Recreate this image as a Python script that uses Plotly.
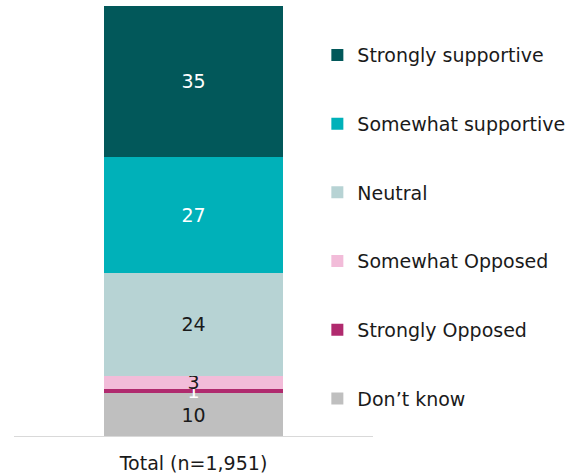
import plotly.graph_objects as go

categories = ["Total (n=1,951)"]
series_names = ["Don’t know", "Strongly Opposed", "Somewhat Opposed", "Neutral",
                "Somewhat supportive", "Strongly supportive"]
series_values = [[10], [1], [3], [24], [27], [35]]
series_colors = ["#BFBFBF", "#B02A6E", "#F2BCD9", "#B7D3D4", "#00B1B9", "#02585A"]
text_colors = ["#1a1a1a", "#ffffff", "#1a1a1a", "#1a1a1a", "#ffffff", "#ffffff"]

FONT = "DejaVu Sans, Verdana, sans-serif"
FS = 19

fig = go.Figure()
n = len(series_names)
for i, (name, vals) in enumerate(zip(series_names, series_values)):
    fig.add_trace(go.Bar(
        x=categories, y=vals, name=name,
        marker=dict(color=series_colors[i], line=dict(width=0)),
        width=0.5,
        text=[str(v) for v in vals],
        textposition="inside", insidetextanchor="middle",
        constraintext="none", textangle=0,
        textfont=dict(color=text_colors[i], size=FS, family=FONT),
        legendgroup=name,
        legendrank=n - i,
    ))

fig.update_layout(
    barmode="stack",
    width=576, height=474,
    margin=dict(l=14, r=203, t=6, b=38),
    paper_bgcolor="white", plot_bgcolor="white",
    font=dict(family=FONT, size=FS, color="#1a1a1a"),
    showlegend=True,
    legend=dict(
        x=0.845, xanchor="left", y=0.93, yanchor="top",
        traceorder="grouped", tracegroupgap=41,
        font=dict(size=FS, family=FONT, color="#1a1a1a"),
        bgcolor="rgba(0,0,0,0)",
        itemclick=False,
    ),
    xaxis=dict(showline=True, linecolor="#d9d9d9", linewidth=1,
               ticks="", showgrid=False, tickfont=dict(size=FS),
               ticklabelstandoff=10, automargin=False),
    yaxis=dict(range=[0, 100], visible=False, showgrid=False),
)

fig.write_html("out.html", config={"displayModeBar": False},
               post_script="document.body.style.margin='0';")
